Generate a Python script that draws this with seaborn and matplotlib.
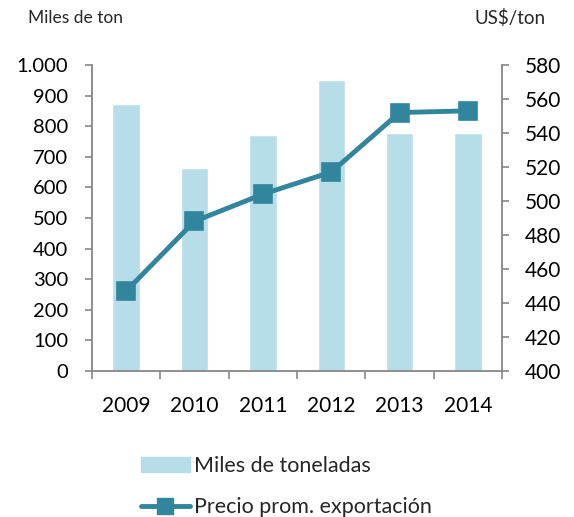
import seaborn as sns
import matplotlib.pyplot as plt
import matplotlib.patches as mpatches
import matplotlib.lines as mlines
from matplotlib.ticker import FixedLocator, FuncFormatter

years = ['2009', '2010', '2011', '2012', '2013', '2014']
miles_ton = [872, 663, 771, 950, 778, 778]
precio = [447, 488, 504, 517, 552, 553]

bar_color = '#B7DDE8'
line_color = '#31859C'
spine_color = '#868686'

sns.set_theme(style='white')
plt.rcParams['font.family'] = ['Lato', 'DejaVu Sans']

fig = plt.figure(figsize=(5.74, 5.17), dpi=100)
ax = fig.add_axes([0.160, 0.2824, 0.715, 0.592])

# bars on left axis
sns.barplot(x=years, y=miles_ton, color=bar_color, width=0.4, ax=ax, saturation=1)
ax.set_ylim(0, 1000)
ax.set_xlim(-0.5, 5.5)
ax.set_yticks(range(0, 1001, 100))
ax.yaxis.set_major_formatter(FuncFormatter(lambda v, p: f'{int(v):,}'.replace(',', '.')))

# price line on right axis
ax2 = ax.twinx()
sns.pointplot(x=years, y=precio, color=line_color, markers='s', ax=ax2,
              linewidth=3.5, markersize=12)
ax2.set_ylim(400, 580)
ax2.set_yticks(range(400, 581, 20))
ax2.set_xlim(-0.5, 5.5)

for a in (ax, ax2):
    a.set_xlabel('')
    a.set_ylabel('')
    a.spines['top'].set_visible(False)
    for s in ('left', 'right', 'bottom'):
        a.spines[s].set_color(spine_color)
        a.spines[s].set_linewidth(1.3)

ax.spines['right'].set_visible(False)
ax2.spines['left'].set_visible(False)
ax2.spines['bottom'].set_visible(False)

ax.tick_params(axis='y', left=True, length=5, width=1.2, color=spine_color,
               labelsize=14.5, pad=12, labelcolor='black')
ax2.tick_params(axis='y', right=True, length=5, width=1.2, color=spine_color,
                labelsize=15, pad=11, labelcolor='black')
ax.xaxis.set_minor_locator(FixedLocator([i - 0.5 for i in range(len(years) + 1)]))
ax.tick_params(axis='x', which='major', length=0, labelsize=15, pad=18, labelcolor='black')
ax.tick_params(axis='x', which='minor', bottom=True, length=6, width=1.2, color=spine_color)

fig.text(0.049, 0.965, 'Miles de ton', fontsize=12.5, va='center', ha='left')
fig.text(0.889, 0.965, 'US$/ton', fontsize=13.5, va='center', ha='center')

handles = [
    mpatches.Patch(color=bar_color, label='Miles de toneladas'),
    mlines.Line2D([], [], color=line_color, linewidth=3.5, marker='s', markersize=11,
                  label='Precio prom. exportación'),
]
fig.legend(handles=handles, loc='center left', bbox_to_anchor=(0.245, 0.059),
           frameon=False, fontsize=15.5, handlelength=2.3, handletextpad=0.2,
           labelspacing=0.98, borderaxespad=0, borderpad=0)

fig.savefig('out.png', dpi=100)
